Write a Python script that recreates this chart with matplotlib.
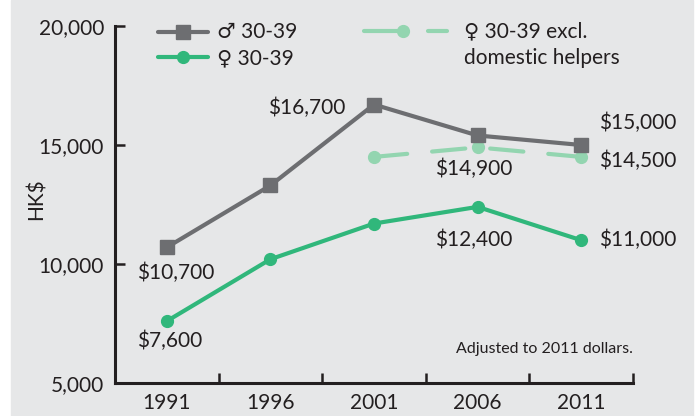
import numpy as np
import matplotlib
matplotlib.use("Agg")
import matplotlib.pyplot as plt
from matplotlib.lines import Line2D
from matplotlib.patches import Rectangle

plt.rcParams['font.family'] = ['Lato', 'DejaVu Sans']

# ── data ──────────────────────────────────────────────────────────
years = ["1991", "1996", "2001", "2006", "2011"]
male = [10700, 13300, 16700, 15400, 15000]
female = [7600, 10200, 11700, 12400, 11000]
female_excl = [np.nan, np.nan, 14500, 14900, 14500]

# value labels: (series, index, text, dx px, dy px, ha)
labels = [
    (male, 0, "$10,700", 9, -26, "center"),
    (male, 2, "$16,700", -29, -3, "right"),
    (male, 4, "$15,000", 18, 22, "left"),
    (female, 0, "$7,600", 3, -20, "center"),
    (female, 3, "$12,400", -4, -33, "center"),
    (female, 4, "$11,000", 18, 0, "left"),
    (female_excl, 3, "$14,900", -4, -22, "center"),
    (female_excl, 4, "$14,500", 18, -4, "left"),
]

W, H = 697, 416
BG = "#e6e7e8"
TXT = "#231f20"
GREY = "#6d6e71"
GREEN = "#30b77b"
LGREEN = "#93d5b0"
FS = 15

fig = plt.figure(figsize=(W / 100, H / 100), dpi=100)
fig.add_artist(Rectangle((11 / W, 0), (693 - 11) / W, 1, transform=fig.transFigure,
                         color=BG, zorder=-10))

ax = fig.add_axes([115 / W, 1 - 383 / H, (633 - 115) / W, (383 - 26) / H])
ax.set_facecolor("none")

x = np.arange(len(years))
ax.plot(x, male, color=GREY, lw=3, marker="s", ms=9.5, zorder=3)
ax.plot(x, female, color=GREEN, lw=3, marker="o", ms=8.5, zorder=3)
ax.plot(x, female_excl, color=LGREEN, lw=3, marker="o", ms=8.5,
        ls=(0, (8, 6)), dash_capstyle="round", zorder=2)

for series, i, txt, dx, dy, ha in labels:
    ax.annotate(txt, (x[i], series[i]), xytext=(dx * 0.72, dy * 0.72),
                textcoords="offset points", ha=ha, va="center",
                fontsize=FS, color=TXT)

ax.set_xlim(-0.5, len(years) - 0.5)
ax.set_ylim(5000, 20000)
ax.set_yticks([5000, 10000, 15000, 20000])
ax.set_yticklabels(["5,000", "10,000", "15,000", "20,000"])
ax.set_xticks(np.arange(len(years)) + 0.5)
ax.set_xticklabels([])
ax.set_xticks(x, minor=True)
ax.set_xticklabels(years, minor=True)
ax.tick_params(axis="both", which="major", direction="in", length=7, width=1.8,
               color=TXT, labelsize=FS, labelcolor=TXT)
ax.tick_params(axis="y", pad=8)
ax.tick_params(axis="x", which="minor", length=0, pad=7, labelsize=FS,
               labelcolor=TXT)
for s in ("top", "right"):
    ax.spines[s].set_visible(False)
for s in ("left", "bottom"):
    ax.spines[s].set_linewidth(2.2)
    ax.spines[s].set_color(TXT)

fig.text(37 / W, 1 - 199 / H, "HK$", rotation=90, ha="center", va="center",
         fontsize=FS, color=TXT)
ax.text(1.0, 0.095, "Adjusted to 2011 dollars.", transform=ax.transAxes,
        ha="right", va="center", fontsize=11.5, color=TXT)

# ── legend (hand-placed) ──────────────────────────────────────────
def fx(px):
    return px / W


def fy(py):
    return 1 - py / H


fig.add_artist(Line2D([fx(158), fx(208)], [fy(32), fy(32)], color=GREY, lw=3,
                      solid_capstyle="round"))
fig.add_artist(Line2D([fx(183)], [fy(32)], color=GREY, marker="s", ms=9.5))
fig.add_artist(Line2D([fx(158), fx(208)], [fy(57), fy(57)], color=GREEN, lw=3,
                      solid_capstyle="round"))
fig.add_artist(Line2D([fx(183)], [fy(57)], color=GREEN, marker="o", ms=8.5))
fig.add_artist(Line2D([fx(364), fx(403)], [fy(31), fy(31)], color=LGREEN, lw=3,
                      solid_capstyle="round"))
fig.add_artist(Line2D([fx(403)], [fy(31)], color=LGREEN, marker="o", ms=8.5))
fig.add_artist(Line2D([fx(428), fx(447)], [fy(31), fy(31)], color=LGREEN, lw=3,
                      solid_capstyle="round"))

fig.text(fx(217), fy(32), "\u2642 30-39", ha="left", va="center", fontsize=FS,
         color=TXT)
fig.text(fx(217), fy(58), "\u2640 30-39", ha="left", va="center", fontsize=FS,
         color=TXT)
fig.text(fx(464), fy(31), "\u2640 30-39 excl.", ha="left", va="center",
         fontsize=FS, color=TXT)
fig.text(fx(464), fy(58), "domestic helpers", ha="left", va="center",
         fontsize=FS, color=TXT)

fig.savefig("out.png", dpi=100)
